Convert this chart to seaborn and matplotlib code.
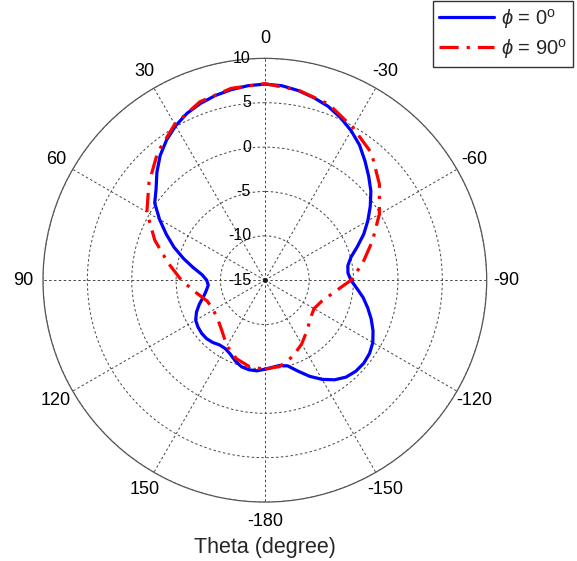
import numpy as np
import matplotlib
matplotlib.use('Agg')
import matplotlib.pyplot as plt
import seaborn as sns

# Radiation pattern data (dB)
theta_phi0 = list(range(-180, 181, 5))
gain_phi0 = [-4.97, -5.15, -5.25, -5.0, -4.1, -3.05, -2.1, -1.3, -0.75, -0.5,
             -0.45, -0.6, -0.95, -1.55, -2.25, -3.0, -3.75, -4.6, -5.3, -5.6,
             -5.5, -4.95, -3.9, -2.7, -1.6, -0.5, 0.6, 1.55, 2.55, 3.6,
             4.45, 5.2, 5.85, 6.3, 6.7, 7.0, 7.1, 7.0, 6.8, 6.55,
             6.2, 5.75, 5.1, 4.3, 3.35, 2.2, 1.0, 0.15, -1.3, -2.75,
             -4.1, -5.5, -6.8, -7.9, -8.45, -8.6, -8.3, -7.85, -7.15, -6.5,
             -6.0, -5.8, -5.7, -5.7, -5.85, -6.1, -6.1, -5.8, -5.3, -4.9,
             -4.75, -4.75, -4.97]

theta_phi90 = list(range(-180, 181, 10))
gain_phi90 = [-4.97, -5.15, -5.85, -6.7, -7.6, -8.3, -8.6, -8.15, -7.1, -5.3,
              -3.8, -2.1, -0.1, 1.85, 3.7, 4.85, 6.1, 6.75, 7.15, 6.95,
              6.4, 5.3, 3.8, 2.05, 0.35, -1.8, -3.95, -5.6, -7.1, -8.1,
              -8.3, -8.1, -7.5, -6.45, -5.6, -5.1, -4.97]

theta_ticks = [0, 30, 60, 90, 120, 150, 180, 210, 240, 270, 300, 330]
theta_labels = ['0', '30', '60', '90', '120', '150', '-180', '-150', '-120', '-90', '-60', '-30']
r_ticks = [-15, -10, -5, 0, 5, 10]

sns.set_theme(style='white')
plt.rcParams['font.family'] = ['Liberation Sans', 'DejaVu Sans']
plt.rcParams['mathtext.fontset'] = 'custom'
plt.rcParams['mathtext.rm'] = 'Liberation Sans'
plt.rcParams['mathtext.it'] = 'Liberation Sans:italic'

fig = plt.figure(figsize=(5.77, 5.61), dpi=100)
ax = fig.add_axes([0.0745, 0.105, 0.769, 0.791], projection='polar')
ax.set_theta_zero_location('N')
ax.set_theta_direction(1)
ax.set_rlim(r_ticks[0], r_ticks[-1])

sns.lineplot(x=np.deg2rad(theta_phi0), y=gain_phi0, ax=ax, sort=False,
             color='#0000ff', lw=2.3, label=r'$\phi$ = 0$^{\rm o}$')
sns.lineplot(x=np.deg2rad(theta_phi90), y=gain_phi90, ax=ax, sort=False,
             color='#ff0000', lw=2.3, dashes=(6, 2.5, 1, 2.5),
             label=r'$\phi$ = 90$^{\rm o}$')

# grid
ax.set_thetagrids(theta_ticks, theta_labels, fontsize=13, color='black')
ax.set_rticks(r_ticks)
ax.set_yticklabels([])
ax.grid(True, linestyle=(0, (2.5, 2.5)), color='#444444', linewidth=0.7)
ax.spines['polar'].set_color('#555555')
ax.spines['polar'].set_linewidth(0.9)
ax.tick_params(axis='x', pad=1)
ax.set_xlabel('')
ax.set_ylabel('')

for r in r_ticks:
    ax.annotate(str(r), xy=(0, r), xytext=(-10, 0), textcoords='offset points',
                ha='right', va='center', fontsize=11.5, color='black')
ax.plot([0], [r_ticks[0]], 'k.', markersize=5)

leg = ax.legend(loc='upper right', bbox_to_anchor=(0.993, 0.999),
                bbox_transform=fig.transFigure, fontsize=14.5, frameon=True,
                fancybox=False, framealpha=1, edgecolor='#333333',
                handlelength=2.7, borderaxespad=0, borderpad=0.3,
                labelspacing=0.3, handletextpad=0.35)
leg.get_frame().set_linewidth(1.0)

fig.text(265 / 577, 1 - 547 / 561, 'Theta (degree)', ha='center', va='center', fontsize=15.5)

fig.savefig('out.png', dpi=100)
